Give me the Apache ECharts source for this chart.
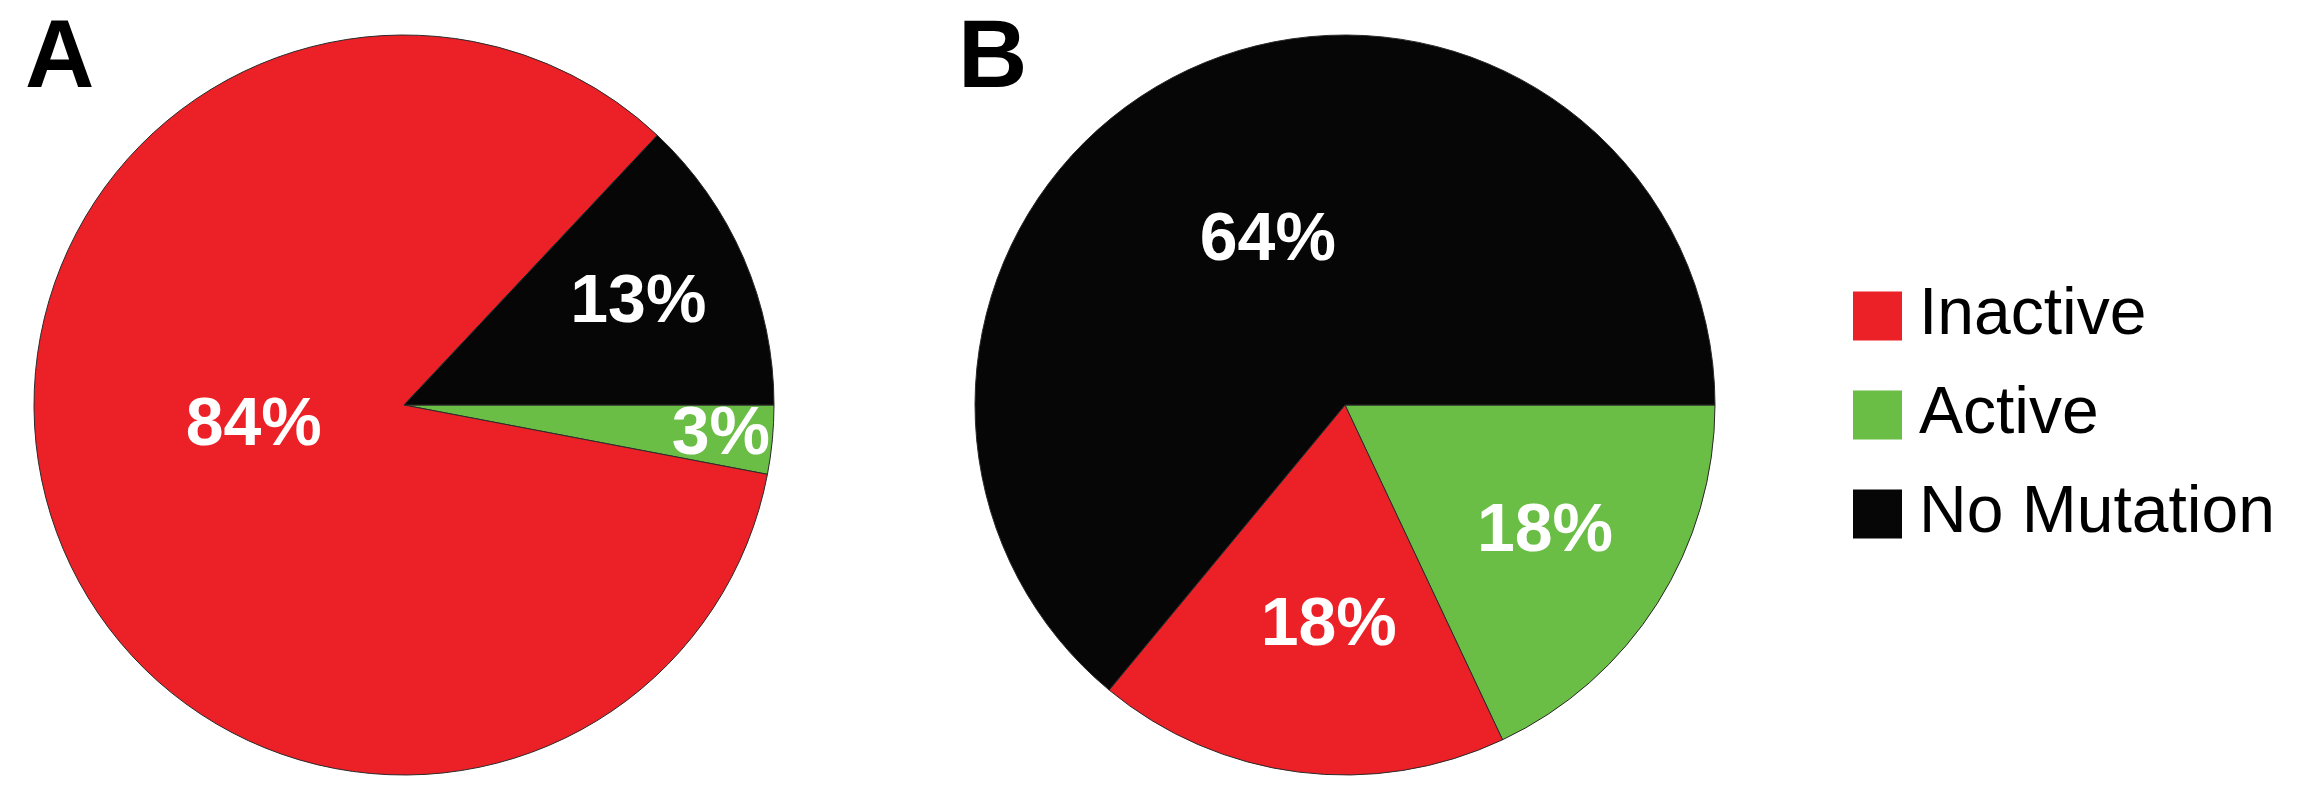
<!DOCTYPE html>
<html>
<head>
    <meta http-equiv="Content-Type" content="text/html; charset=UTF-8">
    <title>Mutation status</title>
    <script type="text/javascript" src="https://cdn.jsdelivr.net/npm/echarts@6/dist/echarts.min.js"></script>
    <style>
        html, body { margin: 0; padding: 0; background: #fff; }
    </style>
</head>
<body>
    <div id="main" style="width: 2298px;height:800px;"></div>

    <script type="text/javascript">
        // categories in slice order (clockwise from 3 o'clock)
        var categories = ['Active', 'Inactive', 'No Mutation'];
        var legendOrder = ['Inactive', 'Active', 'No Mutation'];
        var valuesA = [3, 84, 13];
        var valuesB = [18, 18, 64];
        var colors = ['#6abd45', '#ec2027', '#060606'];

        // where each percentage label sits, as a fraction of the radius
        var labelRadiusA = [0.86, 0.41, 0.69];
        var labelRadiusB = [0.64, 0.60, 0.49];
        var labelTurnA = [0, -10, 0];   // degrees
        var labelTurnB = [0, 3, 0];

        var R = 370;
        var centerA = [404, 405];
        var centerB = [1345, 405];

        function buildData(values) {
            var out = [];
            for (var i = 0; i < categories.length; i++) {
                out.push({
                    name: categories[i],
                    value: values[i],
                    itemStyle: { color: colors[i] }
                });
            }
            return out;
        }

        // move the label along its own direction from the pie centre
        function placeLabels(center, radii, turns) {
            return function (params) {
                var lr = params.labelRect;
                var lx = lr.x + lr.width / 2;
                var ly = lr.y + lr.height / 2;
                var ang = Math.atan2(-(ly - center[1]), lx - center[0]) + turns[params.dataIndex] * Math.PI / 180;
                var r = R * radii[params.dataIndex];
                return {
                    x: center[0] + r * Math.cos(ang),
                    y: center[1] - r * Math.sin(ang)
                };
            };
        }

        var pieLabel = {
            show: true,
            position: 'inside',
            formatter: '{c}%',
            color: '#fff',
            fontFamily: 'Liberation Sans',
            fontWeight: 'bold',
            fontSize: 68
        };

        var myChart = echarts.init(document.getElementById('main'));
        myChart.setOption({
            animation: false,
            title: [
                { text: 'A', left: 20, top: 8,
                  textStyle: { fontFamily: 'Liberation Sans', fontWeight: 'bold', fontSize: 96, lineHeight: 96, color: '#000' } },
                { text: 'B', left: 953, top: 8,
                  textStyle: { fontFamily: 'Liberation Sans', fontWeight: 'bold', fontSize: 96, lineHeight: 96, color: '#000' } }
            ],
            legend: {
                data: legendOrder,
                orient: 'vertical',
                left: 1848,
                top: 278,
                icon: 'rect',
                itemWidth: 49,
                itemHeight: 49,
                itemGap: 33,
                itemStyle: { borderWidth: 0 },
                textStyle: {
                    fontFamily: 'Liberation Sans',
                    fontSize: 66,
                    lineHeight: 49,
                    color: '#000',
                    padding: [0, 0, 0, 12]
                }
            },
            series: [{
                name: 'A',
                type: 'pie',
                center: centerA,
                radius: R,
                startAngle: 0,
                clockwise: true,
                avoidLabelOverlap: false,
                itemStyle: { borderColor: '#2a2a2a', borderWidth: 1 },
                label: pieLabel,
                labelLine: { show: false },
                labelLayout: placeLabels(centerA, labelRadiusA, labelTurnA),
                emphasis: { disabled: true },
                data: buildData(valuesA)
            }, {
                name: 'B',
                type: 'pie',
                center: centerB,
                radius: R,
                startAngle: 0,
                clockwise: true,
                avoidLabelOverlap: false,
                itemStyle: { borderColor: '#2a2a2a', borderWidth: 1 },
                label: pieLabel,
                labelLine: { show: false },
                labelLayout: placeLabels(centerB, labelRadiusB, labelTurnB),
                emphasis: { disabled: true },
                data: buildData(valuesB)
            }]
        });
    </script>
</body>
</html>
